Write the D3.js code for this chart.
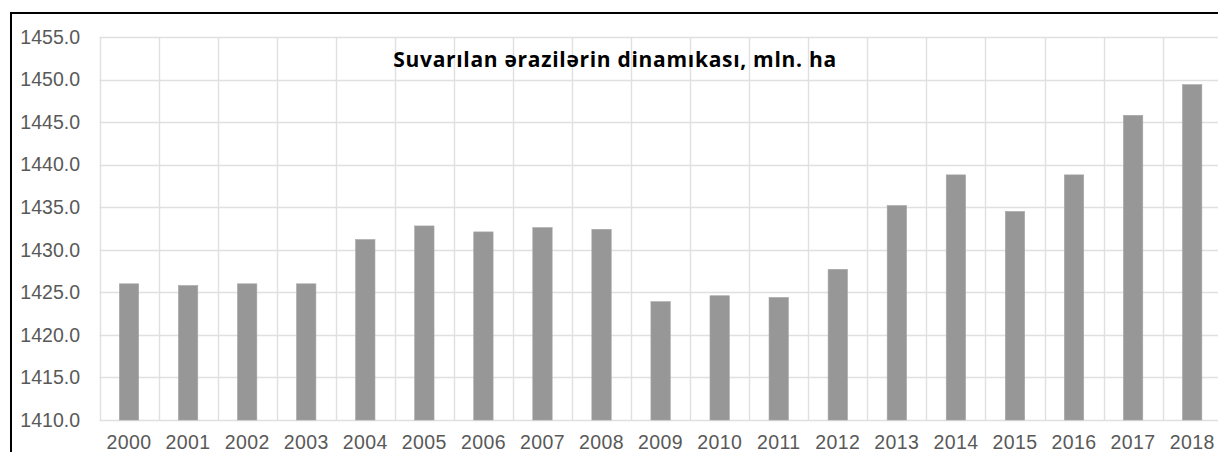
<!DOCTYPE html>
<html>
<head>
<meta charset="utf-8">
<script src="https://cdn.jsdelivr.net/npm/d3@7"></script>
<style>
  body { margin: 0; background: #fff; }
  svg { display: block; }
</style>
</head>
<body>
<svg id="chart" width="1218" height="452"></svg>
<script>
// data
var years = ['2000', '2001', '2002', '2003', '2004', '2005', '2006', '2007', '2008', '2009',
             '2010', '2011', '2012', '2013', '2014', '2015', '2016', '2017', '2018'];
var area = [1426.0, 1425.8, 1426.0, 1426.0, 1431.2, 1432.8, 1432.1, 1432.6, 1432.4, 1423.9,
            1424.6, 1424.4, 1427.7, 1435.2, 1438.8, 1434.5, 1438.8, 1445.8, 1449.4];
var yTicks = [1410, 1415, 1420, 1425, 1430, 1435, 1440, 1445, 1450, 1455];
var title = 'Suvarılan ərazilərin dinamıkası, mln. ha';

var svg = d3.select('#chart');

var plot = { left: 99.5, right: 1221.7, top: 37, bottom: 420 };

var x = d3.scaleBand()
  .domain(years)
  .range([plot.left, plot.right])
  .paddingInner(0.672)
  .paddingOuter(0.336);

var y = d3.scaleLinear()
  .domain([1410, 1455])
  .range([plot.bottom, plot.top]);

// horizontal grid lines
svg.append('g')
  .selectAll('line')
  .data(yTicks)
  .enter()
  .append('line')
  .attr('x1', plot.left)
  .attr('x2', 1218)
  .attr('y1', function(d) { return Math.round(y(d)) + 0.5; })
  .attr('y2', function(d) { return Math.round(y(d)) + 0.5; })
  .attr('stroke', '#e0e0e0')
  .attr('stroke-width', 1.4);

// vertical grid lines on the category boundaries
var edges = years.map(function(d) {
  return x(d) + x.bandwidth() / 2 - x.step() / 2;
});
svg.append('g')
  .selectAll('line')
  .data(edges)
  .enter()
  .append('line')
  .attr('x1', function(d) { return Math.round(d) + 0.5; })
  .attr('x2', function(d) { return Math.round(d) + 0.5; })
  .attr('y1', plot.top)
  .attr('y2', plot.bottom)
  .attr('stroke', '#e0e0e0')
  .attr('stroke-width', 1.4);

// bars
svg.append('g')
  .selectAll('rect')
  .data(years)
  .enter()
  .append('rect')
  .attr('x', function(d) { return x(d); })
  .attr('width', x.bandwidth())
  .attr('y', function(d, i) { return y(area[i]); })
  .attr('height', function(d, i) { return y(1410) - y(area[i]); })
  .attr('fill', '#979797')
  .attr('stroke', '#a6a6a6')
  .attr('stroke-width', 0.6);

// y axis labels
var yAxis = d3.axisLeft(y)
  .tickValues(yTicks)
  .tickFormat(d3.format('.1f'))
  .tickSize(0)
  .tickPadding(0);

svg.append('g')
  .attr('transform', 'translate(80,0)')
  .call(yAxis)
  .call(function(g) { g.select('.domain').remove(); })
  .selectAll('text')
  .attr('font-family', '"Liberation Sans", Arial, sans-serif')
  .attr('font-size', 19.5)
  .attr('fill', '#595959');

// x axis labels
var xAxis = d3.axisBottom(x)
  .tickSize(0)
  .tickPadding(0);

svg.append('g')
  .attr('transform', 'translate(0,' + plot.bottom + ')')
  .call(xAxis)
  .call(function(g) { g.select('.domain').remove(); })
  .selectAll('text')
  .attr('dy', null)
  .attr('y', 29)
  .attr('font-family', '"Liberation Sans", Arial, sans-serif')
  .attr('font-size', 19.5)
  .attr('letter-spacing', 0.4)
  .attr('fill', '#595959');

// title
svg.append('text')
  .attr('x', 615)
  .attr('y', 67)
  .attr('text-anchor', 'middle')
  .attr('font-family', '"Open Sans", "Noto Sans", sans-serif')
  .attr('font-weight', 'bold')
  .attr('font-size', 21)
  .attr('letter-spacing', 0.7)
  .attr('fill', '#000')
  .text(title);

// outer frame, right and bottom edges fall outside the picture
svg.append('rect')
  .attr('x', 11)
  .attr('y', 13)
  .attr('width', 1400)
  .attr('height', 600)
  .attr('fill', 'none')
  .attr('stroke', '#000')
  .attr('stroke-width', 2);
</script>
</body>
</html>
